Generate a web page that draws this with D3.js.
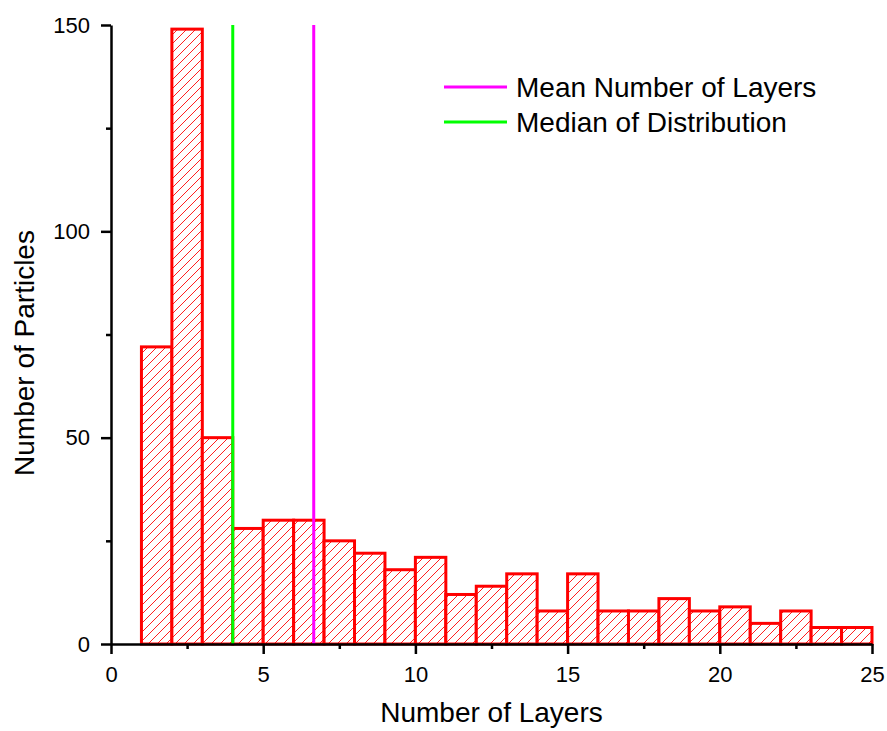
<!doctype html>
<html lang="en">
<head>
<meta charset="UTF-8">
<title>Layers histogram</title>
<style>
  body { margin: 0; background: #fff; }
  svg text { font-family: Arial, "Liberation Sans", sans-serif; }
</style>
</head>
<body>
<div class="container"></div>
<script src="https://d3js.org/d3.v7.min.js"></script>
<script>
  const binStarts = [1, 2, 3, 4, 5, 6, 7, 8, 9, 10, 11, 12, 13, 14, 15, 16, 17, 18, 19, 20, 21, 22, 23, 24];
  const counts = [72, 149, 50, 28, 30, 30, 25, 22, 18, 21, 12, 14, 17, 8, 17, 8, 8, 11, 8, 9, 5, 8, 4, 4];
  const xTicks = [0, 5, 10, 15, 20, 25];
  const yTicks = [0, 50, 100, 150];
  const refLines = [
    { name: 'Mean Number of Layers', value: 6.66, color: '#ff00ff' },
    { name: 'Median of Distribution', value: 4, color: '#00ff00' }
  ];

  const W = 887, H = 731;
  const M_LEFT = 111, M_RIGHT = 872, M_TOP = 25, M_BOTTOM = 644;

  const svg = d3.select('.container').append('svg')
    .attr('width', W).attr('height', H);

  const x = d3.scaleLinear().domain([0, 25]).range([M_LEFT, M_RIGHT]);
  const y = d3.scaleLinear().domain([0, 150]).range([M_BOTTOM, M_TOP]);

  // hatch pattern (thin red "/" lines)
  const HS = 9;
  const pat = svg.append('defs').append('pattern')
    .attr('id', 'hatch')
    .attr('patternUnits', 'userSpaceOnUse')
    .attr('width', HS).attr('height', HS);
  pat.append('rect').attr('width', HS).attr('height', HS).style('fill', '#fff');
  pat.append('path')
    .attr('d', `M-2,2 L2,-2 M0,${HS} L${HS},0 M${HS - 2},${HS + 2} L${HS + 2},${HS - 2}`)
    .style('fill', 'none')
    .style('stroke', '#ff2020')
    .style('stroke-width', 1);

  // bars
  svg.append('g').selectAll('rect')
    .data(binStarts)
    .enter().append('rect')
    .attr('x', d => x(d))
    .attr('y', (d, i) => y(counts[i]))
    .attr('width', d => x(d + 1) - x(d))
    .attr('height', (d, i) => y(0) - y(counts[i]))
    .style('fill', 'url(#hatch)')
    .style('stroke', '#ff0000')
    .style('stroke-width', 3);

  // reference lines
  svg.append('g').selectAll('line')
    .data(refLines)
    .enter().append('line')
    .attr('x1', d => x(d.value)).attr('x2', d => x(d.value))
    .attr('y1', y(150)).attr('y2', y(0))
    .attr('stroke', d => d.color)
    .attr('stroke-width', 3);

  // axes: minor ticks first, then major ticks with labels
  const xMinor = d3.range(0, 25.01, 2.5).filter(v => v % 5 !== 0);
  const yMinor = d3.range(0, 150.01, 25).filter(v => v % 50 !== 0);

  svg.append('g').attr('transform', `translate(0, ${M_BOTTOM})`)
    .call(d3.axisBottom(x).tickValues(xMinor).tickSize(5).tickFormat(''))
    .call(g => g.select('.domain').remove());
  svg.append('g').attr('transform', `translate(0, ${M_BOTTOM})`)
    .call(d3.axisBottom(x).tickValues(xTicks).tickSize(10).tickSizeOuter(0).tickPadding(12));

  svg.append('g').attr('transform', `translate(${M_LEFT}, 0)`)
    .call(d3.axisLeft(y).tickValues(yMinor).tickSize(5).tickFormat(''))
    .call(g => g.select('.domain').remove());
  svg.append('g').attr('transform', `translate(${M_LEFT}, 0)`)
    .call(d3.axisLeft(y).tickValues(yTicks).tickSize(10).tickSizeOuter(0).tickPadding(11));

  svg.selectAll('.domain, .tick line').attr('stroke', '#000').attr('stroke-width', 2.5);
  svg.selectAll('.tick text')
    .attr('font-family', 'Arial, "Liberation Sans", sans-serif')
    .attr('font-size', 22)
    .attr('fill', '#000');

  // axis titles
  svg.append('text')
    .attr('x', (M_LEFT + M_RIGHT) / 2).attr('y', 722)
    .attr('text-anchor', 'middle')
    .attr('font-size', 28)
    .text('Number of Layers');

  svg.append('text')
    .attr('transform', 'translate(34, 353) rotate(-90)')
    .attr('text-anchor', 'middle')
    .attr('font-size', 28)
    .text('Number of Particles');

  // legend
  const legend = svg.append('g').selectAll('g')
    .data(refLines)
    .enter().append('g')
    .attr('transform', (d, i) => `translate(444, ${87 + i * 35})`);
  legend.append('line')
    .attr('x1', 0).attr('x2', 63)
    .attr('stroke', d => d.color).attr('stroke-width', 3);
  legend.append('text')
    .attr('x', 72).attr('dy', '0.35em')
    .attr('font-size', 28)
    .text(d => d.name);
</script>
</body>
</html>
